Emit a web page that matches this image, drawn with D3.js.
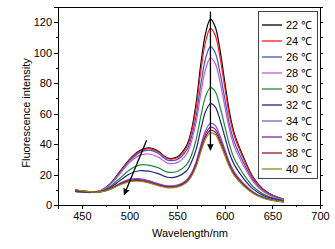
<!DOCTYPE html>
<html lang="en">
<head>
<meta charset="UTF-8">
<title>Fluorescence spectra</title>
<style>
  body { margin: 0; background: #fff; }
  svg { display: block; font-family: "Liberation Sans", Arial, sans-serif; }
  .axis path, .axis line { stroke: #000; shape-rendering: crispEdges; }
  .axis text { font-size: 11px; fill: #000; }
</style>
</head>
<body>
<svg id="chart"></svg>
<script src="https://cdn.jsdelivr.net/npm/d3@7/dist/d3.min.js"></script>
<script>
// wavelengths (nm) where the curves were read
var wavelengths = [443, 450, 460, 470, 480, 490, 500, 510, 520, 530, 540, 550, 560, 565, 570, 575, 580, 585, 590, 595, 600, 605, 610, 620, 630, 640, 650, 662];

var temps = ["22", "24", "26", "28", "30", "32", "34", "36", "38", "40"];
var colors = ["#000000", "#ff1a1a", "#3a57c8", "#cc55c8", "#1f8a3a", "#23237e", "#7a5ad0", "#8a1f9a", "#9a1020", "#8a8a20"];

var s22 = [9.0, 8.6, 8.3, 9.5, 14, 22, 30, 35.5, 37.5, 35.5, 30.8, 31.5, 39, 49, 67, 93, 113, 122, 117, 102, 81, 61, 47, 31, 18, 10.5, 6.5, 3.8];
var s24 = [9.0, 8.6, 8.3, 9.4, 13.8, 21.6, 29.5, 35, 37, 35, 30.5, 31, 38, 47.5, 64, 88.5, 107.5, 116, 111.5, 97, 77.5, 58.5, 45.5, 30, 17.5, 10.2, 6.3, 3.7];
var s26 = [8.8, 8.5, 8.2, 9.4, 13.8, 21.3, 29, 34.2, 36, 34, 29.5, 29.8, 36, 44.5, 58.5, 79.5, 96.5, 104, 100, 87, 70, 53, 41.5, 27.5, 16.3, 9.6, 6, 3.5];
var s28 = [9.0, 8.6, 8.3, 9.3, 13.4, 20.5, 27.8, 32.4, 33.5, 31.5, 27.5, 27.8, 33.5, 41.5, 54.5, 73.5, 89.5, 96.5, 93, 81, 65, 49.5, 38.5, 25.5, 15.2, 9, 5.6, 3.3];
var s30 = [9.2, 8.7, 8.3, 9, 12.2, 17.6, 23, 26.2, 26.2, 24.5, 21.6, 22, 26.5, 32.5, 43, 58.5, 71.5, 77, 74.5, 64.5, 52, 39.5, 30.5, 20, 12, 7.3, 4.7, 2.9];
var s32 = [9.3, 8.8, 8.3, 8.8, 11.5, 16, 20.3, 22.5, 22.2, 20.6, 18.2, 18.6, 22.5, 28, 36.5, 50, 61.5, 66.5, 64.5, 56, 45, 34, 26.5, 17.2, 10.4, 6.4, 4.2, 2.7];
var s34 = [9.6, 9.1, 8.5, 8.7, 10.8, 14.3, 17, 17.3, 16, 14, 12.6, 13, 16.5, 21, 28.5, 39.5, 49, 53.5, 52.2, 45.5, 36.8, 28, 21.8, 14, 8.6, 5.3, 3.5, 2.3];
var s36 = [9.8, 9.2, 8.6, 8.7, 10.6, 13.9, 16.4, 16.6, 15.4, 13.5, 12.1, 12.5, 15.8, 20, 27.2, 37.7, 46.8, 51, 49.8, 43.5, 35.2, 26.8, 20.8, 13.3, 8.1, 5, 3.2, 2.1];
var s38 = [10, 9.3, 8.7, 8.7, 10.5, 13.6, 15.9, 16.1, 15, 13.1, 11.7, 12.1, 15.2, 19.3, 26.2, 36.3, 45, 49, 47.9, 41.8, 33.8, 25.8, 20, 12.8, 7.8, 4.8, 3.1, 2.1];
var s40 = [10.2, 9.4, 8.7, 8.6, 10.3, 13.2, 15.4, 15.6, 14.5, 12.7, 11.3, 11.7, 14.7, 18.7, 25.2, 35, 43.4, 47.3, 46.3, 40.4, 32.6, 24.9, 19.3, 12.4, 7.6, 4.7, 3, 2];
var series = [s22, s24, s26, s28, s30, s32, s34, s36, s38, s40];

var xTicks = [450, 500, 550, 600, 650, 700];
var yTicks = [0, 20, 40, 60, 80, 100, 120];

// trend arrows, in data units
var arrows = [
  {x1: 518, y1: 42.5, x2: 494.5, y2: 6.8},
  {x1: 585, y1: 127, x2: 585, y2: 36}
];

var w = 335, h = 249;
var margin = {top: 7, right: 15, bottom: 44, left: 58};
var svg = d3.select("#chart").attr("width", w).attr("height", h);

var x = d3.scaleLinear().domain([425, 700]).range([margin.left, w - margin.right]);
var y = d3.scaleLinear().domain([0, 130]).range([h - margin.bottom, margin.top]);

svg.append("defs").append("marker")
  .attr("id", "head")
  .attr("viewBox", "0 0 10 10")
  .attr("refX", 9).attr("refY", 5)
  .attr("markerWidth", 5).attr("markerHeight", 6)
  .attr("orient", "auto")
  .append("path").attr("d", "M0,0L10,5L0,10z").attr("fill", "#000");

// curves
var line = d3.line()
  .x(function(d, i) { return x(wavelengths[i]); })
  .y(function(d) { return y(d); })
  .curve(d3.curveCatmullRom.alpha(0.5));

svg.append("g").selectAll("path")
  .data(series)
  .enter().append("path")
  .attr("d", line)
  .attr("fill", "none")
  .attr("stroke", function(d, i) { return colors[i]; })
  .attr("stroke-width", 1.2);

// arrows
svg.append("g").selectAll("line")
  .data(arrows)
  .enter().append("line")
  .attr("x1", function(d) { return x(d.x1); })
  .attr("y1", function(d) { return y(d.y1); })
  .attr("x2", function(d) { return x(d.x2); })
  .attr("y2", function(d) { return y(d.y2); })
  .attr("stroke", "#000")
  .attr("stroke-width", 1.3)
  .attr("marker-end", "url(#head)");

// axes
var y0 = y.range()[0];
svg.append("g").attr("class", "axis")
  .attr("transform", "translate(0," + y0 + ")")
  .call(d3.axisBottom(x).tickValues(d3.range(425, 701, 25)).tickSize(2).tickFormat(""));
svg.append("g").attr("class", "axis")
  .attr("transform", "translate(0," + y0 + ")")
  .call(d3.axisBottom(x).tickValues(xTicks).tickSize(4).tickPadding(3));

svg.append("g").attr("class", "axis")
  .attr("transform", "translate(" + margin.left + ",0)")
  .call(d3.axisLeft(y).tickValues(d3.range(10, 131, 20)).tickSize(2).tickFormat(""));
svg.append("g").attr("class", "axis")
  .attr("transform", "translate(" + margin.left + ",0)")
  .call(d3.axisLeft(y).tickValues(yTicks).tickSize(4).tickPadding(2));

svg.append("g").attr("class", "axis")
  .attr("transform", "translate(" + (w - margin.right) + ",0)")
  .call(d3.axisRight(y).tickValues(d3.range(0, 131, 10)).tickSize(3).tickFormat(""))
  .selectAll("line").attr("stroke", "#999");

// frame
svg.append("rect")
  .attr("x", margin.left).attr("y", margin.top)
  .attr("width", w - margin.left - margin.right)
  .attr("height", h - margin.top - margin.bottom)
  .attr("fill", "none").attr("stroke", "#000").attr("stroke-width", 1)
  .attr("shape-rendering", "crispEdges");

// axis titles
svg.append("text")
  .attr("x", (margin.left + w - margin.right) / 2 + 1)
  .attr("y", 237)
  .attr("text-anchor", "middle")
  .attr("font-size", "11px")
  .text("Wavelength/nm");

svg.append("text")
  .attr("transform", "translate(30," + ((margin.top + y0) / 2 + 7) + ") rotate(-90)")
  .attr("text-anchor", "middle")
  .attr("font-size", "11px")
  .text("Fluorescence intensity");

// legend
var lg = svg.append("g").attr("transform", "translate(258,11)");
lg.append("rect")
  .attr("width", 59).attr("height", 167)
  .attr("fill", "#fff").attr("stroke", "#444").attr("stroke-width", 1)
  .attr("shape-rendering", "crispEdges");
var item = lg.selectAll("g.item")
  .data(temps)
  .enter().append("g").attr("class", "item")
  .attr("transform", function(d, i) { return "translate(0," + (14 + i * 16) + ")"; });
item.append("line")
  .attr("x1", 4).attr("x2", 24)
  .attr("stroke", function(d, i) { return colors[i]; })
  .attr("stroke-width", 1.3);
item.append("text")
  .attr("x", 28).attr("y", 4)
  .attr("font-size", "11px")
  .text(function(d) { return d + " ℃"; });
</script>
</body>
</html>
